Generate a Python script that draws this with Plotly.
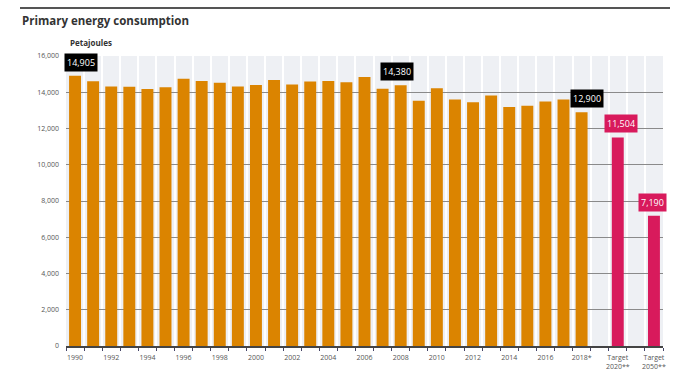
import plotly.graph_objects as go

# Primary energy consumption in petajoules
years = [str(y) for y in range(1990, 2018)] + ["2018*"]
consumption = [14905, 14610, 14319, 14309, 14185, 14269, 14746, 14614, 14521, 14323,
               14401, 14679, 14428, 14600, 14618, 14558, 14837, 14197, 14380, 13531,
               14217, 13599, 13447, 13822, 13180, 13262, 13491, 13594, 12900]
targets = ["Target<br>2020**", "Target<br>2050**"]
target_values = [11504, 7190]

y_ticks = [0, 2000, 4000, 6000, 8000, 10000, 12000, 14000, 16000]

ORANGE = "#DB8400"
PINK = "#D81A5C"

# slot positions: one per year, then a blank slot before each target
year_pos = list(range(len(years)))
target_pos = [len(years) + 1, len(years) + 3]
n_slots = len(years) + 4

tick_pos = year_pos[::2] + target_pos
tick_text = years[::2] + targets

fig = go.Figure()
fig.add_trace(go.Bar(x=year_pos, y=consumption, marker_color=ORANGE,
                     marker_line_width=0, width=0.66, hoverinfo="skip"))
fig.add_trace(go.Bar(x=target_pos, y=target_values, marker_color=PINK,
                     marker_line_width=0, width=0.66, hoverinfo="skip"))


def fmt(v):
    return f"{v:,}"


# value call-outs
callouts = [(year_pos[0], consumption[0], "black", 0.35),
            (year_pos[18], consumption[18], "black", -0.2),
            (year_pos[-1], consumption[-1], "black", 0.3),
            (target_pos[0], target_values[0], PINK, 0.2),
            (target_pos[1], target_values[1], PINK, -0.1)]
annotations = []
for xp, v, col, dx in callouts:
    annotations.append(dict(x=xp + dx, y=v, text=fmt(v), showarrow=False,
                            xref="x", yref="y", yanchor="bottom", yshift=4,
                            bgcolor=col, borderpad=2,
                            font=dict(color="white", size=9, family="Open Sans")))

annotations.append(dict(x=0.003, y=1.02, xref="paper", yref="paper", text="<b>Petajoules</b>",
                        showarrow=False, xanchor="left", yanchor="bottom",
                        font=dict(size=8, color="#333", family="Open Sans")))

fig.update_layout(
    width=677, height=371,
    margin=dict(l=66, r=14, t=56, b=25),
    paper_bgcolor="white",
    plot_bgcolor="#EEF0F4",
    showlegend=False,
    barmode="overlay",
    title=dict(text="<b>Primary energy consumption</b>", x=22 / 677, xanchor="left",
               y=1 - 21 / 371, yanchor="middle",
               font=dict(size=11.5, color="#333", family="Open Sans")),
    annotations=annotations,
    shapes=[dict(type="line", xref="paper", yref="paper", x0=-46 / 597, x1=604 / 597,
                 y0=1 + 48 / 290, y1=1 + 48 / 290, line=dict(color="#555", width=2))],
)

fig.update_xaxes(
    range=[-0.5, n_slots - 0.5],
    tickvals=tick_pos, ticktext=tick_text,
    tickfont=dict(size=7, color="#555", family="Open Sans"),
    showgrid=False, zeroline=False, automargin=False,
    showline=True, linecolor="#444", linewidth=1.5,
    ticks="", ticklen=0, ticklabelstandoff=4,
    minor=dict(tickvals=[p + 0.5 for p in range(-1, n_slots)], showgrid=True,
               gridcolor="white", gridwidth=1.5, ticks="outside", ticklen=3,
               tickcolor="#446"),
)
fig.update_yaxes(
    range=[0, 16000], automargin=False,
    tickvals=y_ticks, ticktext=[fmt(v) for v in y_ticks],
    tickfont=dict(size=7, color="#555", family="Open Sans"),
    showgrid=True, gridcolor="#8A8A8A", gridwidth=1,
    zeroline=False, ticks="", ticklabelstandoff=6,
)

fig.write_html("out.html")
